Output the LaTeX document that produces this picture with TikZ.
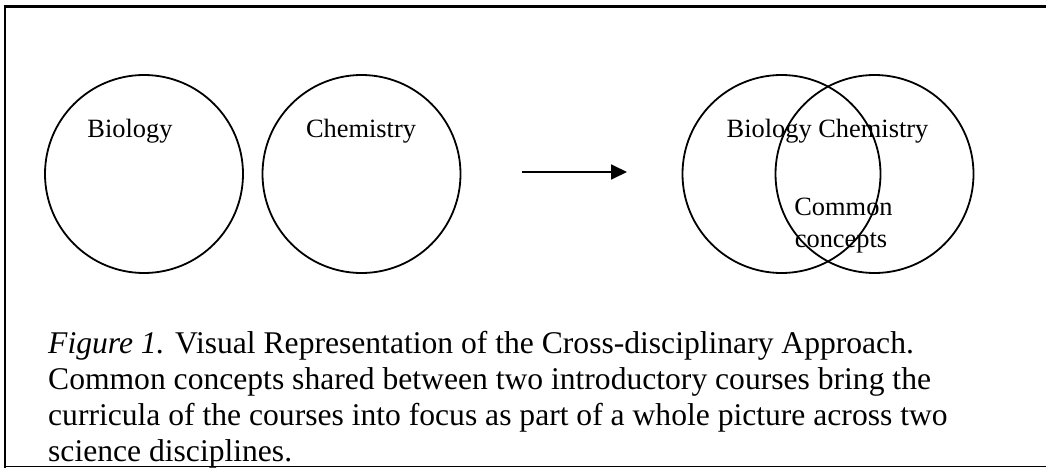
\documentclass[tikz,border=0pt]{standalone}
\usepackage{fontspec}
\setmainfont{Liberation Serif}
\usetikzlibrary{arrows.meta}
\begin{document}
\begin{tikzpicture}[x=1pt,y=-1pt,
  txt/.style={font=\fontsize{26.4}{31}\selectfont, inner sep=0pt, anchor=base},
  captxt/.style={font=\fontsize{31.6}{36}\selectfont, inner sep=0pt, anchor=base west},
  ring/.style={circle, draw, line width=1.8pt, minimum size=198pt, inner sep=0pt}]
\useasboundingbox (0,0) rectangle (1046,468);
% frame
\coordinate (tl) at (5,7);
\coordinate (tr) at (1046,7);
\coordinate (bl) at (5,466.5);
\coordinate (br) at (1046,466.5);
\draw[line width=3pt] (3.5,7) -- (tr);
\draw[line width=1.8pt] (tl) -- (5,468);
\draw[line width=1.5pt] (bl) -- (br);
% separate circles
\node[ring] (bio) at (144,174) {};
\node[ring] (chem) at (361.5,174) {};
\node[txt] (biot) at (130,137) {Biology};
\node[txt] (chemt) at (361,137) {Chemistry};
% arrow
\coordinate (as) at (522,172);
\coordinate (ae) at (627,172);
\draw[line width=1.8pt, -{Triangle[length=16pt,width=15pt]}] (as) -- (ae);
% venn
\node[ring] (vbio) at (781.5,174) {};
\node[ring] (vchem) at (874.5,174) {};
\node[txt] (vt) at (827.5,137) {Biology Chemistry};
\node[txt] (c1) at (843.5,215) {Common};
\node[txt] (c2) at (841,247) {concepts};
% caption
\node[captxt] (l1) at (48,353) {\textit{Figure 1.} Visual Representation of the Cross-disciplinary Approach.};
\node[captxt] (l2) at (48,389) {Common concepts shared between two introductory courses bring the};
\node[captxt] (l3) at (48,425) {curricula of the courses into focus as part of a whole picture across two};
\node[captxt] (l4) at (48,461) {science disciplines.};
\end{tikzpicture}
\end{document}
